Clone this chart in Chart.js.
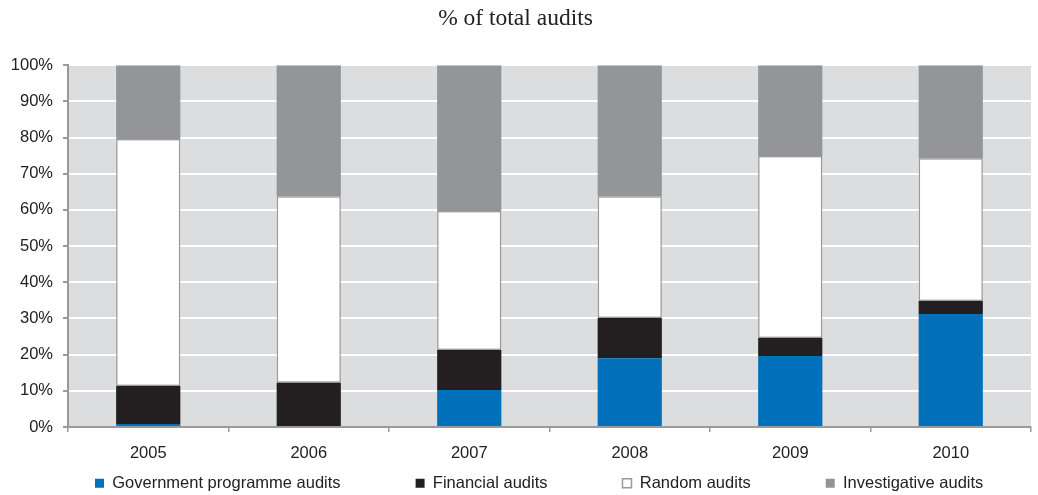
<!DOCTYPE html>
<html>
<head>
<meta charset="utf-8">
<script src="https://cdn.jsdelivr.net/npm/chart.js@4/dist/chart.umd.min.js"></script>
<style>
html,body{margin:0;padding:0;background:#fff;}
#wrap{width:1038px;height:495px;}
</style>
</head>
<body>
<div id="wrap"><canvas id="c" width="1038" height="495"></canvas></div>
<script>
const years = ["2005","2006","2007","2008","2009","2010"];
const govAudits = [0.8, 0.3, 10.2, 19.0, 19.6, 31.2];
const financialAudits = [10.5, 11.9, 11.1, 11.1, 5.0, 3.6];
const randomAudits = [68.3, 51.6, 38.4, 33.7, 50.3, 39.5];
const investigativeAudits = [20.4, 36.2, 40.3, 36.2, 25.1, 25.7];
const yTicks = [0,10,20,30,40,50,60,70,80,90,100];

const SANS = '"Liberation Sans", Arial, sans-serif';

const bgPlugin = {
  id: 'plotBg',
  beforeDraw(chart) {
    const {ctx, chartArea:a} = chart;
    ctx.save();
    ctx.fillStyle = '#dcdddf';
    ctx.fillRect(a.left, a.top, a.right - a.left, a.bottom - a.top);
    ctx.restore();
  }
};

// Keep wide horizontal spacing between legend items on one row, without the matching vertical gap
const legendSpacing = {
  id: 'legendSpacing',
  beforeLayout(chart) {
    const lg = chart.legend;
    if (!lg || lg._patched) return;
    lg._patched = true;
    const fit = lg.fit.bind(lg);
    lg.fit = function() {
      const mw = this.maxWidth;
      this.maxWidth = 5000;
      fit();
      this.maxWidth = mw;
      this.width = mw;
      this.height = 22;
    };
    const draw = lg.draw.bind(lg);
    lg.draw = function() {
      const t = this.top, l = this.left, r = this.right;
      this.top = t - this.options.labels.padding + 4;
      this.left = l + 20; this.right = r + 300;
      draw();
      this.top = t; this.left = l; this.right = r;
    };
  }
};

new Chart(document.getElementById('c'), {
  type: 'bar',
  data: {
    labels: years,
    datasets: [
      {label: 'Government programme audits', data: govAudits, backgroundColor: '#0071ba', borderWidth: 0},
      {label: 'Financial audits', data: financialAudits, backgroundColor: '#231f20', borderWidth: 0},
      {label: 'Random audits', data: randomAudits, backgroundColor: '#ffffff', borderColor: '#9a9a9a', borderWidth: 1.5, borderSkipped: false},
      {label: 'Investigative audits', data: investigativeAudits, backgroundColor: '#939598', borderWidth: 0}
    ]
  },
  options: {
    responsive: false,
    animation: false,
    devicePixelRatio: 1,
    layout: {padding: {left: 0, right: 7, top: 0, bottom: 2}},
    datasets: {bar: {categoryPercentage: 1.0, barPercentage: 0.4}},
    plugins: {
      title: {
        display: true,
        text: '% of total audits',
        font: {family: '"Liberation Serif", "Times New Roman", serif', size: 23.5, weight: 'normal'},
        color: '#222',
        padding: {top: 5, bottom: 32}
      },
      legend: {
        position: 'bottom',
        align: 'start',
        labels: {
          boxWidth: 9, boxHeight: 9,
          font: {family: SANS, size: 16.5},
          color: '#222',
          padding: 75
        }
      },
      tooltip: {enabled: false}
    },
    scales: {
      x: {
        stacked: true,
        afterFit(axis) { axis.height = 44; },
        grid: {display: true, drawOnChartArea: false, offset: true, tickLength: 5, color: '#9a9a9a', lineWidth: 1.5},
        border: {color: '#9a9a9a', width: 2},
        ticks: {font: {family: SANS, size: 16.5}, color: '#222', padding: 12}
      },
      y: {
        stacked: true,
        min: 0, max: 100,
        afterBuildTicks(axis) { axis.ticks = yTicks.map(v => ({value: v})); },
        afterFit(axis) { axis.width = 68; },
        grid: {color: '#ffffff', lineWidth: 2, tickColor: '#9a9a9a', tickLength: 5, drawTicks: true},
        border: {color: '#9a9a9a', width: 2},
        ticks: {font: {family: SANS, size: 16.5}, color: '#222', padding: 10,
          callback: v => v + '%'}
      }
    }
  },
  plugins: [bgPlugin, legendSpacing]
});
</script>
</body>
</html>
